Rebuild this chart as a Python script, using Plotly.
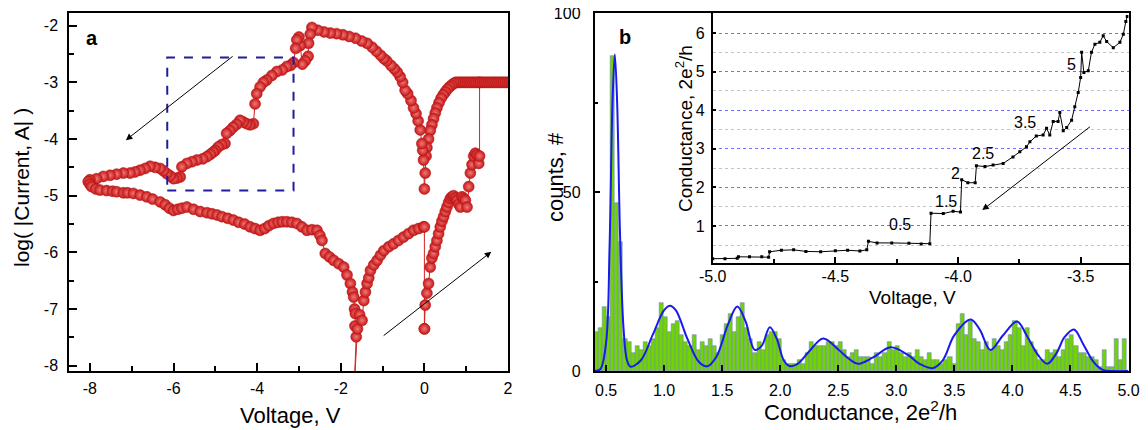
import plotly.graph_objects as go

# ---------------- panel a: I-V loop, log|I| vs V ----------------
iv_volt = [
    0.0, 0.02, 0.06, 0.1, 0.14, 0.18, 0.22, 0.26, 0.3, 0.34, 0.38, 0.42, 0.46, 0.5, 0.54, 0.58,
    0.62, 0.66, 0.7, 0.74, 0.78, 0.82, 0.86, 0.9, 0.94, 0.98, 1.02, 1.06, 1.1, 1.14, 1.18, 1.22,
    1.26, 1.3, 1.32, 1.32,
    2.0, 1.95, 1.9, 1.85, 1.8, 1.75, 1.7, 1.65, 1.6, 1.55, 1.5, 1.45, 1.4, 1.35, 1.3, 1.25, 1.2,
    1.15, 1.1, 1.05, 1.0, 0.95, 0.9, 0.85, 0.8, 0.75,
    0.7, 0.65, 0.6, 0.55, 0.5, 0.45, 0.4, 0.35, 0.3, 0.26, 0.22, 0.18, 0.14, 0.1, 0.06, 0.04,
    0.02, 0.0,
    -0.02, -0.04, -0.06, -0.1, -0.15, -0.2, -0.26, -0.32, -0.4, -0.46, -0.52, -0.58, -0.65,
    -0.72, -0.8, -0.9, -0.97, -1.05, -1.15, -1.25, -1.37, -1.5, -1.65, -1.8, -1.95, -2.1, -2.25,
    -2.4, -2.55, -2.69,
    -2.73, -2.77, -2.78, -2.85, -2.92, -2.97, -3.0, -3.05, -3.08, -3.13, -3.2, -3.29, -3.4,
    -3.53, -3.65, -3.77, -3.85, -3.93, -4.01, -4.05, -4.09, -4.17, -4.25, -4.33, -4.41, -4.49,
    -4.57, -4.65, -4.73, -4.77, -4.85, -4.93, -5.0, -5.05, -5.12, -5.2, -5.3, -5.44, -5.56,
    -5.68, -5.8, -5.84, -5.92, -6.0, -6.08, -6.16, -6.24, -6.32, -6.44, -6.56, -6.68, -6.8,
    -6.92, -7.04, -7.2, -7.36, -7.52, -7.68, -7.84, -8.0, -8.04,
    -8.0, -7.96, -7.86, -7.76, -7.6, -7.46, -7.36, -7.2, -7.1, -6.96, -6.8, -6.64, -6.5, -6.32,
    -6.2, -6.1, -6.0, -5.9, -5.8, -5.68, -5.52, -5.36, -5.2, -5.08, -4.96, -4.84, -4.7, -4.57,
    -4.44, -4.3, -4.17, -4.05, -3.93, -3.82, -3.72, -3.61, -3.5, -3.4, -3.29, -3.17, -3.05,
    -2.93, -2.81, -2.69, -2.57, -2.5, -2.45, -2.37, -2.27, -2.17, -2.05, -1.93, -1.85, -1.77,
    -1.72, -1.69, -1.67, -1.65, -1.66, -1.63, -1.68, -1.6, -1.55, -1.49, -1.45, -1.41, -1.37,
    -1.33, -1.29, -1.21, -1.13, -1.05, -0.97, -0.85, -0.74, -0.62, -0.5, -0.38, -0.26, -0.14,
    -0.02, 0.0, 0.0,
]
iv_logi = [
    -7.35, -6.93, -6.72, -6.55, -6.26, -6.1, -6.02, -5.9, -5.79, -5.67, -5.55, -5.45, -5.37,
    -5.28, -5.2, -5.12, -5.05, -5.02, -5.0, -5.04, -5.08, -5.15, -5.2, -5.02, -5.05, -5.08,
    -5.2, -4.84, -4.6, -4.45, -4.3, -4.25, -4.28, -4.43, -4.3, -3.0,
    -3.0, -3.0, -3.0, -3.0, -3.0, -3.0, -3.0, -3.0, -3.0, -3.0, -3.0, -3.0, -3.0, -3.0, -3.0,
    -3.0, -3.0, -3.0, -3.0, -3.0, -3.0, -3.0, -3.0, -3.0, -3.0, -3.0,
    -3.02, -3.05, -3.08, -3.12, -3.17, -3.22, -3.28, -3.36, -3.45, -3.54, -3.64, -3.75, -3.85,
    -4.0, -4.15, -4.3, -4.6, -4.88,
    -4.37, -4.2, -4.08, -3.84, -3.68, -3.55, -3.45, -3.32, -3.2, -3.14, -3.0, -2.9, -2.82,
    -2.76, -2.7, -2.62, -2.58, -2.52, -2.45, -2.38, -2.31, -2.27, -2.22, -2.19, -2.16, -2.14,
    -2.13, -2.11, -2.08, -2.03,
    -2.15, -2.31, -2.54, -2.62, -2.68, -2.35, -2.2, -2.25, -2.4, -2.65, -2.7, -2.72, -2.78,
    -2.81, -2.88, -2.96, -3.0, -3.08, -3.2, -3.38, -3.73, -3.75, -3.73, -3.7, -3.67, -3.74,
    -3.79, -3.85, -3.9, -4.08, -4.1, -4.14, -4.2, -4.23, -4.27, -4.31, -4.35, -4.37, -4.4,
    -4.43, -4.49, -4.67, -4.69, -4.7, -4.65, -4.61, -4.56, -4.52, -4.5, -4.48, -4.52, -4.55,
    -4.58, -4.6, -4.6, -4.62, -4.64, -4.66, -4.7, -4.72, -4.75,
    -4.8, -4.84, -4.88, -4.9, -4.91, -4.92, -4.93, -4.95, -4.95, -4.96, -4.99, -5.02, -5.06,
    -5.11, -5.16, -5.22, -5.26, -5.24, -5.22, -5.2, -5.24, -5.28, -5.3, -5.32, -5.34, -5.37,
    -5.4, -5.43, -5.47, -5.5, -5.55, -5.58, -5.61, -5.58, -5.53, -5.49, -5.47, -5.46, -5.46,
    -5.47, -5.49, -5.55, -5.61, -5.6, -5.61, -5.7, -5.79, -6.02, -6.08, -6.14, -6.2, -6.26,
    -6.4, -6.55, -6.7, -6.79, -7.0, -7.08, -7.3, -7.49, -8.4, -7.35, -7.1, -7.2, -6.85, -6.7,
    -6.55, -6.45, -6.32, -6.22, -6.14, -6.05, -5.97, -5.9, -5.85, -5.79, -5.73, -5.67, -5.61,
    -5.58, -5.55, -5.55, -7.35,
]

# ---------------- panel b: conductance histogram ----------------
hist_first_center = 0.4175
hist_bin_width = 0.035
hist_counts = [
    11, 12, 18, 15, 88, 47, 36, 9, 8, 5, 7, 6, 8, 7, 9, 12, 19, 15, 11, 13, 14, 10, 8, 7, 10,
    6, 8, 7, 9, 7, 5,
    10, 13, 16, 11, 15, 19, 12, 9, 5, 8, 6, 10, 11, 11, 9, 3, 2, 2, 2, 3, 2, 5, 8, 7, 7, 7, 8,
    8, 7, 8, 6, 4, 5, 6,
    4, 4, 4, 2, 5, 4, 5, 8, 6, 7, 5, 4, 5, 4, 6, 4, 3, 5, 3, 3, 2, 3, 4, 2, 13, 16, 10, 14, 9,
    8, 6, 8, 6, 9,
    7, 6, 8, 10, 14, 12, 7, 12, 8, 6, 3, 3, 6, 5, 6, 4, 6, 9, 10, 7, 5, 5, 4, 4, 3, 1, 6, 1, 1,
    9, 3, 9,
]
fit_g = [
    0.40, 0.45, 0.50, 0.53, 0.555, 0.575, 0.595, 0.62, 0.65, 0.68, 0.71, 0.80, 0.90, 1.00,
    1.05, 1.10, 1.20, 1.30, 1.37, 1.45, 1.55, 1.63, 1.70, 1.78, 1.84, 1.91, 1.97, 2.03, 2.08,
    2.15, 2.25, 2.37, 2.50, 2.60, 2.67, 2.80, 2.95, 3.10, 3.20, 3.31, 3.40, 3.50, 3.64, 3.72,
    3.81, 3.92, 4.04, 4.13, 4.22, 4.30, 4.38, 4.45, 4.53, 4.61, 4.70, 4.78, 4.86, 5.0,
]
fit_counts = [
    0, 0.5, 8, 35, 75, 88.5, 75, 38, 12, 3, 1.2, 3, 10, 17, 18.2, 17, 9, 2.5, 1.3, 4, 13, 18,
    14, 5.9, 7, 12.2, 9, 3, 1.4, 2, 5.5, 9.1, 6, 3.2, 2, 3.8, 6.6, 4.5, 2, 0.8, 3, 10, 14.4,
    11.5, 5.9, 10, 13.8, 9.5, 4.5, 2, 5, 9.5, 11.6, 7.5, 2.5, 0.3, 0, 0,
]

# ---------------- inset: conductance vs voltage ----------------
inset_volt = [
    -5.0, -4.95, -4.9, -4.895, -4.85, -4.8, -4.772, -4.768, -4.72, -4.67, -4.62, -4.56, -4.5,
    -4.45, -4.4, -4.372, -4.365, -4.33, -4.27, -4.2, -4.15, -4.115, -4.11, -4.06, -4.02, -3.99,
    -3.985, -3.96, -3.93, -3.925, -3.89, -3.857, -3.816, -3.776, -3.748, -3.721, -3.707,
    -3.681, -3.653, -3.639, -3.626, -3.612, -3.592, -3.585, -3.571, -3.557, -3.537, -3.524,
    -3.51, -3.5, -3.496, -3.487, -3.469, -3.456, -3.442, -3.422, -3.408, -3.394, -3.367, -3.34,
    -3.326, -3.316, -3.31,
]
inset_cond = [
    0.15, 0.15, 0.16, 0.2, 0.2, 0.2, 0.19, 0.33, 0.37, 0.38, 0.34, 0.33, 0.36, 0.37, 0.35,
    0.38, 0.6, 0.56, 0.56, 0.55, 0.53, 0.54, 1.33, 1.32, 1.38, 1.36, 2.2, 2.12, 2.12, 2.56,
    2.54, 2.58, 2.62, 2.79, 2.92, 3.05, 3.18, 3.33, 3.36, 3.53, 3.36, 3.71, 3.71, 3.94, 3.47,
    3.55, 3.74, 4.09, 4.46, 4.85, 5.5, 4.98, 5.02, 5.5, 5.71, 5.76, 5.93, 5.78, 5.62, 5.76,
    5.97, 6.3, 6.43,
]
step_labels = ["0.5", "1.5", "2", "2.5", "3.5", "5"]
step_label_v = [-4.237, -4.047, -4.009, -3.898, -3.728, -3.537]
step_label_g = [1.04, 1.64, 2.36, 2.88, 3.68, 5.18]

FONT = "Liberation Sans, Arial, sans-serif"
W, H = 1148, 430
PAGE_OFFSET = 8  # page body margin shifts the plot div by this many px


def px_x(px):
    return (px - PAGE_OFFSET) / W


def px_y(py):
    return 1 - (py - PAGE_OFFSET) / H


fig = go.Figure()

fig.add_trace(go.Scatter(
    x=iv_volt, y=iv_logi, mode="lines+markers", xaxis="x", yaxis="y",
    line=dict(color="#d42222", width=1),
    marker=dict(size=11, color="#c81616", line=dict(color="#b01212", width=0.5),
                gradient=dict(type="radial", color="#ee7a7a")),
    showlegend=False,
))

fig.add_trace(go.Bar(
    x0=hist_first_center, dx=hist_bin_width, y=hist_counts, width=hist_bin_width,
    xaxis="x2", yaxis="y2",
    marker=dict(color="#6fd400", line=dict(color="#7484cc", width=0.6)),
    showlegend=False,
))
fig.add_trace(go.Scatter(
    x=fit_g, y=fit_counts, mode="lines", line=dict(color="#1a1aee", width=2, shape="spline"),
    xaxis="x2", yaxis="y2", showlegend=False,
))

fig.add_trace(go.Scatter(
    x=inset_volt, y=inset_cond, mode="lines+markers", xaxis="x3", yaxis="y3",
    line=dict(color="black", width=1),
    marker=dict(symbol="square", size=3, color="black"),
    showlegend=False,
))

ax_common = dict(showline=True, linecolor="black", linewidth=1.5, ticks="inside",
                 tickcolor="black", tickwidth=1.5, showgrid=False, zeroline=False,
                 automargin=False, ticklabeloverflow="allow",
                 tickfont=dict(family=FONT, size=16, color="black"))

main_ydom = [px_y(371), px_y(13)]

fig.update_layout(
    template="none",
    width=W, height=H,
    margin=dict(l=0, r=0, t=0, b=0),
    paper_bgcolor="white", plot_bgcolor="white",
    font=dict(family=FONT, color="black"),
    bargap=0,
    xaxis=dict(**ax_common, domain=[px_x(69), px_x(508)], range=[-8.5, 2], mirror=True,
               tickvals=[-8, -6, -4, -2, 0, 2], ticktext=["-8", "-6", "-4", "-2", "0", "2"],
               ticklen=8, ticklabelstandoff=2,
               minor=dict(tickvals=[-7, -5, -3, -1, 1], ticks="inside", ticklen=5,
                          tickcolor="black", tickwidth=1.5),
               anchor="y"),
    yaxis=dict(**ax_common, domain=main_ydom, range=[-8.094, -1.776], mirror=True,
               tickvals=[-8, -7, -6, -5, -4, -3, -2],
               ticktext=["-8", "-7", "-6", "-5", "-4", "-3", "-2"],
               ticklen=8, ticklabelstandoff=6,
               minor=dict(tickvals=[-7.5, -6.5, -5.5, -4.5, -3.5, -2.5], ticks="inside",
                          ticklen=5, tickcolor="black", tickwidth=1.5),
               anchor="x"),
    xaxis2=dict(**ax_common, domain=[px_x(594.5), px_x(1128.5)], range=[0.4, 5.0],
                mirror=True,
                tickvals=[0.5, 1.0, 1.5, 2.0, 2.5, 3.0, 3.5, 4.0, 4.5, 5.0], tickformat=".1f",
                ticklen=6, ticklabelstandoff=4, anchor="y2"),
    yaxis2=dict(**ax_common, domain=main_ydom, range=[0, 100], mirror=True,
                tickvals=[0, 50, 100], ticklen=6, ticklabelstandoff=9,
                minor=dict(tickvals=[25, 75], ticks="inside", ticklen=4,
                           tickcolor="black", tickwidth=1.5),
                anchor="x2"),
    xaxis3=dict(**ax_common, domain=[px_x(712.7), px_x(1128.5)], range=[-5.0, -3.305],
                tickvals=[-5.0, -4.5, -4.0, -3.5], ticktext=["-5.0", "-4.5", "-4.0", "-3.5"],
                ticklen=6, ticklabelstandoff=-2,
                minor=dict(tickvals=[-4.75, -4.25, -3.75], ticks="inside", ticklen=4,
                           tickcolor="black", tickwidth=1.5),
                anchor="y3"),
    yaxis3=dict(showline=True, linecolor="black", linewidth=1.5, ticks="inside",
                tickcolor="black", tickwidth=1.5, ticklen=4, zeroline=False, automargin=False,
                ticklabeloverflow="allow",
                tickfont=dict(family=FONT, size=16, color="black"),
                domain=[px_y(262.7), px_y(13)], range=[0.047, 6.52],
                tickvals=[1, 2, 3, 4, 5, 6], ticklabelstandoff=3,
                showgrid=True, gridcolor="#6f6fff", griddash="dot", gridwidth=1,
                minor=dict(tickvals=[0.5, 1.5, 2.5, 3.5, 4.5, 5.5, 6.5], showgrid=True,
                           gridcolor="#c4c4c4", griddash="dot", ticks=""),
                anchor="x3"),
)

# dashed box in panel a
fig.add_shape(type="rect", xref="x", yref="y", x0=-6.15, x1=-3.13, y0=-4.91, y1=-2.56,
              line=dict(color="#1e1e9a", width=2, dash="dash"))


def paper_text(px, py, text, size, angle=0, bold=False):
    return dict(x=px_x(px), y=px_y(py), xref="paper", yref="paper",
                text=f"<b>{text}</b>" if bold else text, textangle=angle,
                xanchor="center", yanchor="middle", showarrow=False,
                font=dict(size=size, family=FONT, color="black"))


annotations = [
    # panel a arrows
    dict(x=-7.14, y=-4.02, ax=-4.55, ay=-2.52, xref="x", yref="y", axref="x", ayref="y",
         showarrow=True, arrowhead=2, arrowsize=1.3, arrowwidth=1, arrowcolor="black", text=""),
    dict(x=1.6, y=-5.99, ax=-1.01, ay=-7.49, xref="x", yref="y", axref="x", ayref="y",
         showarrow=True, arrowhead=2, arrowsize=1.3, arrowwidth=1, arrowcolor="black", text=""),
    # inset arrow
    dict(x=-3.901, y=1.41, ax=-3.456, ay=3.6, xref="x3", yref="y3", axref="x3", ayref="y3",
         showarrow=True, arrowhead=2, arrowsize=1.3, arrowwidth=1, arrowcolor="black", text=""),
    # panel letters
    paper_text(92, 38, "a", 20, bold=True),
    paper_text(625, 37, "b", 20, bold=True),
    # axis titles
    paper_text(290, 415, "Voltage, V", 22),
    paper_text(21, 188, "log( |Current, A| )", 21, angle=-90),
    paper_text(861, 411, "Conductance, 2e<sup>2</sup>/h", 22),
    paper_text(555, 177, "counts, #", 22, angle=-90),
    paper_text(912, 297, "Voltage, V", 19),
    paper_text(684, 129, "Conductance, 2e<sup>2</sup>/h", 19, angle=-90),
]
for lbl, v, g in zip(step_labels, step_label_v, step_label_g):
    annotations.append(dict(x=v, y=g, xref="x3", yref="y3", text=lbl, showarrow=False,
                            xanchor="center", yanchor="middle",
                            font=dict(size=16, family=FONT, color="black")))
fig.update_layout(annotations=annotations)

fig.write_html("out.html")
